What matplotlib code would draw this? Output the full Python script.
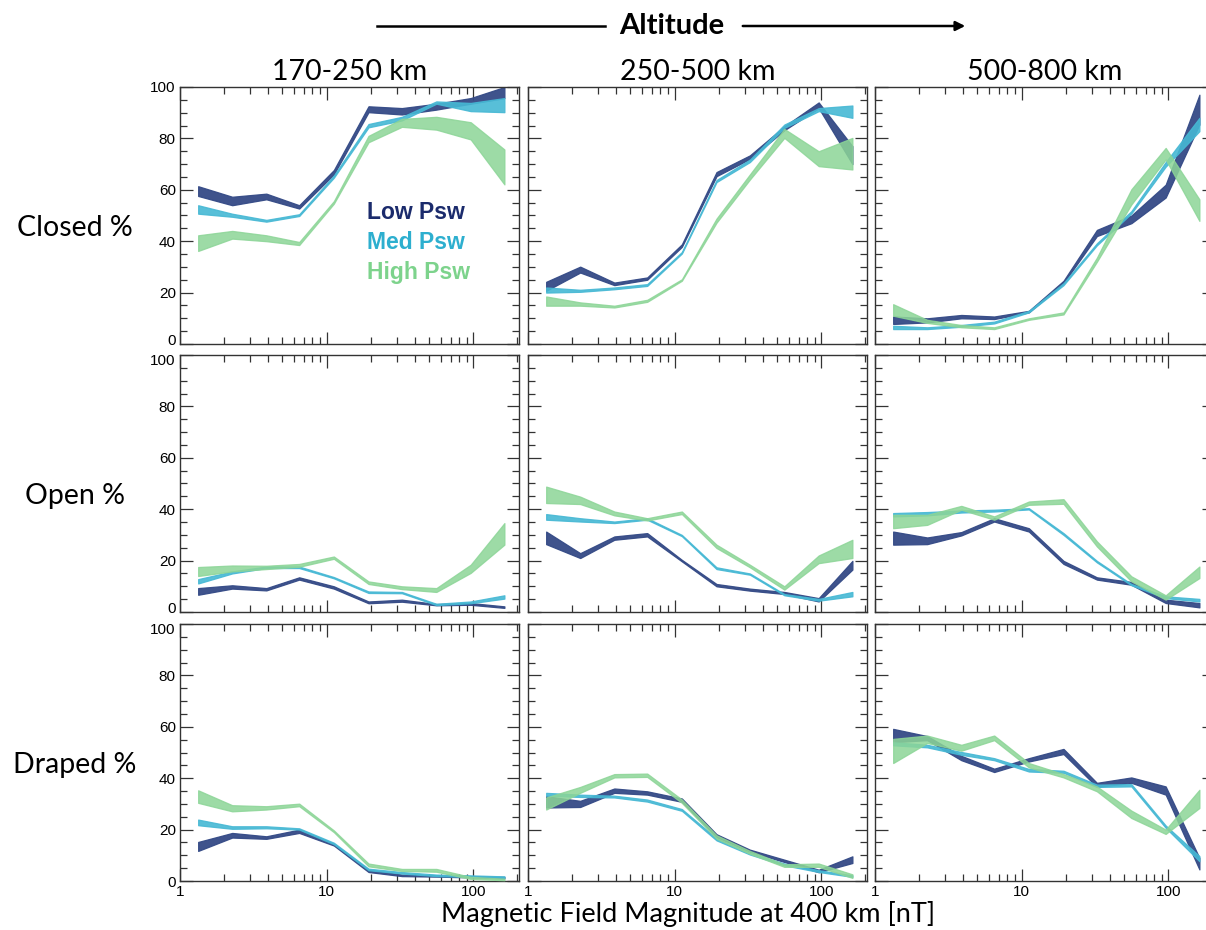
import matplotlib
matplotlib.use("Agg")
import matplotlib.pyplot as plt
import matplotlib.transforms as mtransforms
from matplotlib.ticker import LogLocator, MultipleLocator, FixedLocator, NullFormatter

# Bin centres of the field-magnitude histogram [nT]
b_field = [1.33, 2.27, 3.88, 6.5, 11.2, 19.3, 32.6, 56.0, 96.0, 163.0]

altitude_bins = ["170-250 km", "250-500 km", "500-800 km"]
topologies = ["Closed %", "Open %", "Draped %"]
psw_labels = ["Low Psw", "Med Psw", "High Psw"]

# Each entry: [lower bound], [upper bound] of the percentage band
closed_170_low = [[57.6, 54.0, 56.3, 52.7, 66.0, 90.2, 89.3, 91.2, 93.5, 95.7],
                  [61.4, 57.3, 58.5, 54.0, 67.7, 92.5, 91.8, 93.5, 95.7, 100.0]]
closed_170_med = [[50.7, 49.5, 47.6, 49.8, 64.7, 84.3, 87.0, 93.5, 90.6, 90.2],
                  [54.0, 50.7, 48.3, 50.5, 65.6, 85.6, 88.4, 94.4, 93.8, 95.7]]
closed_170_high = [[36.2, 41.0, 40.0, 38.5, 54.6, 78.5, 84.5, 83.4, 79.6, 62.1],
                   [42.3, 44.0, 42.3, 39.7, 55.6, 81.0, 87.6, 88.4, 86.3, 75.7]]

closed_250_low = [[20.7, 27.8, 22.9, 25.0, 37.8, 65.3, 72.0, 83.2, 91.8, 70.0],
                  [24.2, 30.1, 23.9, 25.9, 38.8, 66.9, 73.4, 84.7, 94.0, 77.0]]
closed_250_med = [[20.0, 20.3, 21.3, 22.6, 35.2, 63.0, 70.8, 84.1, 90.6, 88.0],
                  [22.0, 21.1, 22.0, 23.3, 35.8, 63.8, 71.8, 85.4, 91.8, 92.8]]
closed_250_high = [[14.9, 14.9, 14.2, 16.4, 24.6, 47.2, 64.0, 80.2, 69.2, 67.9],
                   [18.5, 16.2, 14.9, 17.2, 25.2, 48.8, 66.0, 83.7, 75.0, 80.2]]

closed_500_low = [[7.8, 8.4, 10.0, 9.7, 12.3, 23.7, 42.0, 47.0, 57.0, 85.4],
                  [10.7, 10.0, 11.3, 10.7, 12.9, 24.6, 44.4, 50.0, 62.0, 97.0]]
closed_500_med = [[5.8, 5.8, 6.7, 8.0, 12.3, 22.9, 38.4, 50.8, 69.0, 82.8],
                  [7.1, 6.5, 7.4, 8.7, 12.9, 23.7, 39.2, 51.7, 70.8, 88.0]]
closed_500_high = [[11.0, 8.2, 6.5, 5.8, 9.4, 11.5, 32.0, 54.3, 71.8, 47.9],
                   [15.5, 9.4, 7.4, 6.5, 10.0, 12.3, 33.6, 60.2, 76.3, 56.3]]

open_170_low = [[6.7, 9.1, 8.4, 12.6, 9.1, 3.4, 4.0, 2.6, 2.8, 1.6],
                [9.3, 10.4, 9.3, 13.5, 10.0, 4.1, 4.8, 3.1, 3.5, 2.2]]
open_170_med = [[11.1, 15.0, 17.1, 17.1, 13.1, 7.4, 7.3, 2.7, 3.4, 5.2],
                [12.8, 15.8, 17.7, 17.7, 13.6, 8.0, 7.8, 3.2, 4.1, 6.5]]
open_170_high = [[14.0, 15.8, 16.7, 17.6, 20.7, 10.9, 8.9, 7.8, 15.2, 26.2],
                 [17.5, 18.1, 18.0, 18.7, 21.6, 11.9, 10.0, 9.3, 18.4, 34.6]]

open_250_low = [[26.4, 21.0, 28.1, 29.4, 19.7, 10.0, 8.3, 7.0, 4.1, 16.5],
                [31.3, 22.9, 29.4, 30.7, 20.3, 10.9, 9.1, 7.8, 5.4, 19.9]]
open_250_med = [[35.9, 35.2, 34.6, 35.9, 29.5, 16.7, 14.5, 6.5, 4.4, 6.1],
                [38.1, 36.5, 35.2, 36.5, 30.0, 17.4, 15.0, 7.0, 5.1, 7.8]]
open_250_high = [[42.4, 42.0, 37.6, 35.6, 38.1, 24.9, 17.4, 8.7, 19.0, 21.0],
                 [48.8, 44.9, 39.1, 36.5, 39.1, 26.2, 18.4, 10.0, 22.0, 28.1]]

open_500_low = [[26.2, 26.4, 29.8, 35.2, 31.3, 18.7, 12.6, 10.6, 3.5, 1.8],
                [31.3, 29.0, 31.1, 36.5, 32.6, 19.9, 13.5, 11.7, 4.8, 3.5]]
open_500_med = [[37.2, 37.6, 38.7, 39.1, 39.9, 30.0, 19.3, 10.4, 5.4, 4.1],
                [38.5, 38.9, 39.5, 39.8, 40.4, 30.7, 19.9, 10.9, 6.1, 5.1]]
open_500_high = [[32.6, 33.9, 39.8, 35.9, 41.7, 42.1, 25.5, 11.9, 4.8, 13.2],
                 [37.8, 37.8, 41.3, 37.2, 43.0, 43.9, 27.5, 13.9, 6.5, 17.7]]

draped_170_low = [[11.7, 16.9, 16.4, 18.7, 13.8, 3.5, 1.9, 1.7, 1.4, 1.0],
                  [15.2, 18.7, 17.4, 20.0, 14.5, 4.4, 2.5, 2.2, 1.9, 1.6]]
draped_170_med = [[21.7, 20.3, 20.5, 20.0, 14.3, 4.2, 2.9, 1.9, 1.6, 1.2],
                  [23.9, 21.3, 21.3, 20.5, 14.9, 4.8, 3.5, 2.5, 2.2, 1.8]]
draped_170_high = [[30.4, 27.1, 27.8, 29.1, 19.0, 5.7, 3.9, 3.6, 0.8, 0.3],
                   [35.3, 29.5, 29.1, 30.1, 19.7, 6.8, 4.7, 4.7, 1.6, 0.9]]

draped_250_low = [[28.6, 28.8, 34.3, 33.6, 30.8, 17.1, 11.4, 7.4, 3.4, 7.0],
                  [33.0, 31.2, 36.0, 34.9, 32.1, 18.2, 12.2, 8.3, 4.4, 9.6]]
draped_250_med = [[33.2, 32.7, 32.5, 30.9, 27.3, 15.8, 10.3, 6.1, 3.5, 1.6],
                  [34.3, 33.6, 33.2, 31.7, 28.0, 16.6, 10.9, 6.8, 4.2, 2.2]]
draped_250_high = [[27.8, 34.3, 40.3, 40.5, 30.4, 16.5, 10.6, 5.5, 5.5, 1.2],
                   [32.5, 36.6, 41.6, 41.8, 31.7, 17.8, 11.7, 6.5, 6.8, 2.6]]

draped_500_low = [[54.0, 54.8, 47.0, 42.4, 46.5, 49.4, 36.6, 38.2, 33.6, 4.5],
                  [59.2, 56.4, 48.7, 43.7, 47.8, 51.4, 38.2, 40.3, 36.8, 9.0]]
draped_500_med = [[52.8, 52.0, 49.1, 47.0, 42.6, 42.1, 36.6, 36.8, 20.7, 7.7],
                  [54.0, 53.0, 50.2, 47.8, 43.6, 42.9, 37.5, 37.7, 21.6, 9.7]]
draped_500_high = [[45.9, 53.7, 50.7, 54.8, 44.2, 40.3, 34.9, 24.5, 18.3, 28.4],
                   [55.3, 56.6, 53.0, 56.6, 45.9, 41.6, 36.8, 27.4, 20.0, 35.5]]

panels = [
    [(closed_170_low, closed_170_med, closed_170_high),
     (closed_250_low, closed_250_med, closed_250_high),
     (closed_500_low, closed_500_med, closed_500_high)],
    [(open_170_low, open_170_med, open_170_high),
     (open_250_low, open_250_med, open_250_high),
     (open_500_low, open_500_med, open_500_high)],
    [(draped_170_low, draped_170_med, draped_170_high),
     (draped_250_low, draped_250_med, draped_250_high),
     (draped_500_low, draped_500_med, draped_500_high)],
]

band_colors = ["#344A86", "#46B8D4", "#8CD597"]
band_alpha = [0.95, 0.9, 0.85]
text_colors = ["#1B2B6C", "#2DAFCF", "#7DD38C"]

W, H = 1206, 930
fig = plt.figure(figsize=(W / 100, H / 100), dpi=100)

col_left = [180, 528, 875]
ax_w = 339
row_top = [87, 355, 624]
ax_h = 257

label_font = ["Lato", "DejaVu Sans"]
tick_font = ["Liberation Sans", "DejaVu Sans"]
edge = "#333333"
tick_size = 11
label_size = 20.5

for r in range(3):
    for c in range(3):
        l = col_left[c] / W
        b = 1 - (row_top[r] + ax_h) / H
        ax = fig.add_axes([l, b, ax_w / W, ax_h / H])
        ax.set_xscale("log")
        ax.set_xlim(1, 205)
        ax.set_ylim(0, 100)
        for k, band in enumerate(panels[r][c]):
            lo, hi = band
            ax.fill_between(b_field, lo, hi, color=band_colors[k],
                            alpha=band_alpha[k], linewidth=0.9,
                            edgecolor=band_colors[k], zorder=2 + k)
        for s in ax.spines.values():
            s.set_color(edge)
            s.set_linewidth(1.0)
        ax.yaxis.set_major_locator(MultipleLocator(20))
        ax.yaxis.set_minor_locator(MultipleLocator(5))
        ax.xaxis.set_major_locator(FixedLocator([1, 10, 100]))
        ax.xaxis.set_minor_locator(LogLocator(base=10, subs=range(2, 10)))
        ax.xaxis.set_minor_formatter(NullFormatter())
        ax.tick_params(which="both", direction="in", top=True, right=True,
                       color=edge, width=0.9)
        ax.tick_params(which="major", length=9)
        ax.tick_params(which="minor", length=5)
        ax.tick_params(axis="both", labelsize=tick_size, pad=3)
        if c == 0:
            ax.set_yticks([0, 20, 40, 60, 80, 100])
            labels = ax.set_yticklabels(["0", "20", "40", "60", "80", "100"],
                                        family=tick_font, fontsize=tick_size)
            # keep the stacked 0 / 100 labels of neighbouring rows apart
            if r < 2:
                labels[0].set_transform(labels[0].get_transform() +
                                        mtransforms.ScaledTranslation(0, 3 / 72, fig.dpi_scale_trans))
            if r > 0:
                labels[-1].set_transform(labels[-1].get_transform() +
                                         mtransforms.ScaledTranslation(0, -3 / 72, fig.dpi_scale_trans))
        else:
            ax.set_yticklabels([])
        if r == 2:
            ax.set_xticklabels(["1", "10", "100"], family=tick_font,
                               fontsize=tick_size)
        else:
            ax.set_xticklabels([])
        if r == 0:
            ax.set_title(altitude_bins[c], family=label_font,
                         fontsize=label_size, pad=5)
        if r == 0 and c == 0:
            for k, name in enumerate(psw_labels):
                ax.text(0.552, 0.51 - k * 0.115, name, transform=ax.transAxes,
                        color=text_colors[k], fontsize=16.5, fontweight="bold",
                        family=tick_font, va="center", ha="left")

# Row labels
for r, name in enumerate(topologies):
    yc = row_top[r] + ax_h * 0.55
    fig.text(75 / W, 1 - yc / H, name, family=label_font, fontsize=label_size,
             ha="center", va="center")

# Shared x label
fig.text(688 / W, 1 - 914 / H, "Magnetic Field Magnitude at 400 km [nT]",
         family=label_font, fontsize=19.5, ha="center", va="center")

# Altitude arrow header
ya = 1 - 26 / H
fig.add_artist(plt.Line2D([377 / W, 605 / W], [ya, ya], color="black",
                          linewidth=1.8, transform=fig.transFigure))
fig.text(672 / W, ya, "Altitude", family=label_font, fontsize=21,
         fontweight="bold", ha="center", va="center")
fig.add_artist(matplotlib.patches.FancyArrowPatch(
    (740 / W, ya), (968 / W, ya), transform=fig.transFigure,
    arrowstyle="-|>", mutation_scale=14, color="black", linewidth=1.8))

fig.savefig("out.png", dpi=100)
